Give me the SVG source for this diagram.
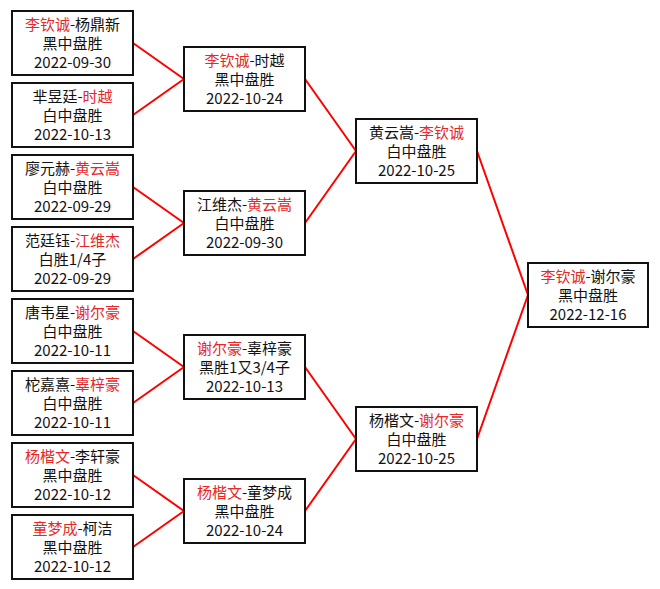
<svg xmlns="http://www.w3.org/2000/svg" width="660" height="589" viewBox="0 0 660 589">
<style>
.box{fill:#fff;stroke:#111;stroke-width:2}
.t{font-family:"Noto Sans CJK SC","Liberation Sans",sans-serif;font-size:15px;fill:#111;text-anchor:middle}
.r{fill:#e62828}
.c{stroke:#f00;stroke-width:2;fill:none}
</style>
<rect width="660" height="589" fill="#fff"/>
<g id="connectors">
<path class="c" d="M133 43L184 79M133 115L184 79"/>
<path class="c" d="M133 187L184 223M133 259L184 223"/>
<path class="c" d="M133 331L184 367M133 403L184 367"/>
<path class="c" d="M133 475L184 511M133 547L184 511"/>
<path class="c" d="M305 79L356 151M305 223L356 151"/>
<path class="c" d="M305 367L356 439M305 511L356 439"/>
<path class="c" d="M477 151L528 295M477 439L528 295"/>
</g>
<g id="r1-1"><rect class="box" x="12" y="11" width="121" height="64"/>
<text class="t" x="72.5" y="30"><tspan class="r">李钦诚</tspan>-杨鼎新</text><text class="t" x="72.5" y="49">黑中盘胜</text><text class="t" x="72.5" y="68">2022-09-30</text></g>
<g id="r1-2"><rect class="box" x="12" y="83" width="121" height="64"/>
<text class="t" x="72.5" y="102">芈昱廷-<tspan class="r">时越</tspan></text><text class="t" x="72.5" y="121">白中盘胜</text><text class="t" x="72.5" y="140">2022-10-13</text></g>
<g id="r1-3"><rect class="box" x="12" y="155" width="121" height="64"/>
<text class="t" x="72.5" y="174">廖元赫-<tspan class="r">黄云嵩</tspan></text><text class="t" x="72.5" y="193">白中盘胜</text><text class="t" x="72.5" y="212">2022-09-29</text></g>
<g id="r1-4"><rect class="box" x="12" y="227" width="121" height="64"/>
<text class="t" x="72.5" y="246">范廷钰-<tspan class="r">江维杰</tspan></text><text class="t" x="72.5" y="265">白胜1/4子</text><text class="t" x="72.5" y="284">2022-09-29</text></g>
<g id="r1-5"><rect class="box" x="12" y="299" width="121" height="64"/>
<text class="t" x="72.5" y="318">唐韦星-<tspan class="r">谢尔豪</tspan></text><text class="t" x="72.5" y="337">白中盘胜</text><text class="t" x="72.5" y="356">2022-10-11</text></g>
<g id="r1-6"><rect class="box" x="12" y="371" width="121" height="64"/>
<text class="t" x="72.5" y="390">柁嘉熹-<tspan class="r">辜梓豪</tspan></text><text class="t" x="72.5" y="409">白中盘胜</text><text class="t" x="72.5" y="428">2022-10-11</text></g>
<g id="r1-7"><rect class="box" x="12" y="443" width="121" height="64"/>
<text class="t" x="72.5" y="462"><tspan class="r">杨楷文</tspan>-李轩豪</text><text class="t" x="72.5" y="481">黑中盘胜</text><text class="t" x="72.5" y="500">2022-10-12</text></g>
<g id="r1-8"><rect class="box" x="12" y="515" width="121" height="64"/>
<text class="t" x="72.5" y="534"><tspan class="r">童梦成</tspan>-柯洁</text><text class="t" x="72.5" y="553">黑中盘胜</text><text class="t" x="72.5" y="572">2022-10-12</text></g>
<g id="r2-1"><rect class="box" x="184" y="47" width="121" height="64"/>
<text class="t" x="244.5" y="66"><tspan class="r">李钦诚</tspan>-时越</text><text class="t" x="244.5" y="85">黑中盘胜</text><text class="t" x="244.5" y="104">2022-10-24</text></g>
<g id="r2-2"><rect class="box" x="184" y="191" width="121" height="64"/>
<text class="t" x="244.5" y="210">江维杰-<tspan class="r">黄云嵩</tspan></text><text class="t" x="244.5" y="229">白中盘胜</text><text class="t" x="244.5" y="248">2022-09-30</text></g>
<g id="r2-3"><rect class="box" x="184" y="335" width="121" height="64"/>
<text class="t" x="244.5" y="354"><tspan class="r">谢尔豪</tspan>-辜梓豪</text><text class="t" x="244.5" y="373">黑胜1又3/4子</text><text class="t" x="244.5" y="392">2022-10-13</text></g>
<g id="r2-4"><rect class="box" x="184" y="479" width="121" height="64"/>
<text class="t" x="244.5" y="498"><tspan class="r">杨楷文</tspan>-童梦成</text><text class="t" x="244.5" y="517">黑中盘胜</text><text class="t" x="244.5" y="536">2022-10-24</text></g>
<g id="r3-1"><rect class="box" x="356" y="119" width="121" height="64"/>
<text class="t" x="416.5" y="138">黄云嵩-<tspan class="r">李钦诚</tspan></text><text class="t" x="416.5" y="157">白中盘胜</text><text class="t" x="416.5" y="176">2022-10-25</text></g>
<g id="r3-2"><rect class="box" x="356" y="407" width="121" height="64"/>
<text class="t" x="416.5" y="426">杨楷文-<tspan class="r">谢尔豪</tspan></text><text class="t" x="416.5" y="445">白中盘胜</text><text class="t" x="416.5" y="464">2022-10-25</text></g>
<g id="final"><rect class="box" x="528" y="263" width="120" height="64"/>
<text class="t" x="588" y="282"><tspan class="r">李钦诚</tspan>-谢尔豪</text><text class="t" x="588" y="301">黑中盘胜</text><text class="t" x="588" y="320">2022-12-16</text></g>
</svg>
